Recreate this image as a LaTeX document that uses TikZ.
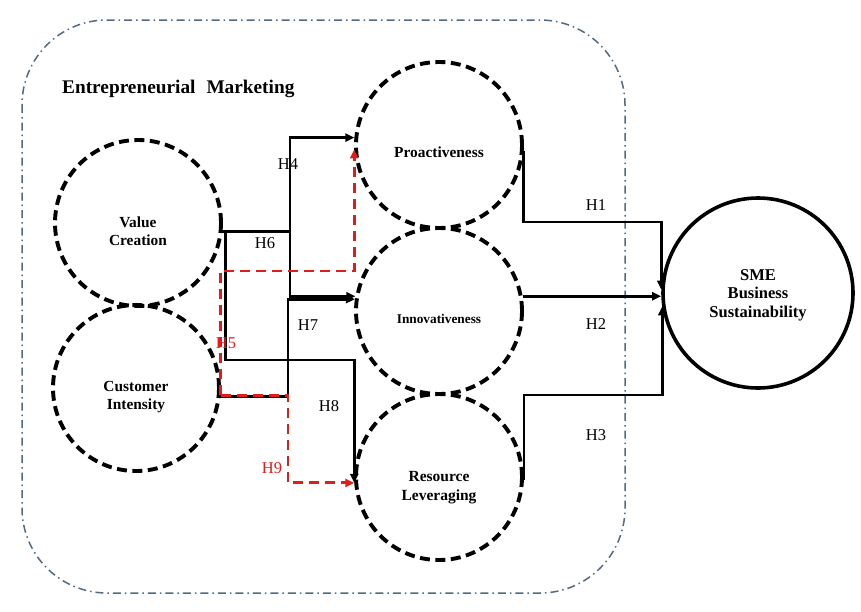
\documentclass[tikz,border=0pt]{standalone}
\usepackage{fontspec}
\setmainfont{Liberation Serif}
\usetikzlibrary{arrows.meta}
\definecolor{framec}{RGB}{84,106,126}
\definecolor{hred}{RGB}{224,28,28}
\begin{document}
\begin{tikzpicture}[x=1pt,y=-1pt,
  dcirc/.style={circle,draw,line width=3.9pt,dash pattern=on 10pt off 5.5pt,minimum size=166pt,inner sep=0pt},
  scirc/.style={circle,draw,line width=3.6pt,minimum size=190pt,inner sep=0pt},
  conn/.style={line width=2.8pt,-{Triangle[length=9pt,width=8pt]}},
  rconn/.style={line width=2.9pt,draw=hred,dash pattern=on 10pt off 6pt,-{Triangle[length=9pt,width=8pt,fill=hred]}},
  ntext/.style={font=\bfseries\fontsize{15.4}{18.5}\selectfont,align=center,inner sep=0pt},
  hlab/.style={font=\fontsize{16.5}{19}\selectfont,inner sep=0pt},
  frame/.style={draw=framec,line width=1.5pt,rounded corners=85pt,dash pattern=on 8pt off 4pt on 1.5pt off 4pt}]
\useasboundingbox (0,0) rectangle (861,611);
\fill[white] (0,0) rectangle (861,611);
% outer frame
\draw[frame] (22,20) rectangle (625,593);
\node[font=\bfseries\fontsize{19.3}{21}\selectfont,anchor=west,inner sep=0pt] (em) at (62,89) {Entrepreneurial\hspace{11pt}Marketing};
% circles
\node[dcirc] (VC) at (138,223) {};
\node[dcirc] (CI) at (136,388) {};
\node[dcirc] (PRO) at (439,145) {};
\node[dcirc] (INNO) at (439,311) {};
\node[dcirc] (RL) at (439,477) {};
\node[scirc] (SME) at (758,293) {};
% texts
\node[ntext] (tVC) at (138,231) {Value\\Creation};
\node[ntext] (tCI) at (136,397) {Customer\\Intensity};
\node[ntext] (tPRO) at (439,152) {Proactiveness};
\node[ntext,font=\bfseries\fontsize{13.3}{15}\selectfont] (tINNO) at (439,319) {Innovativeness};
\node[ntext,font=\bfseries\fontsize{15.5}{19}\selectfont] (tRL) at (439,488) {Resource\\Leveraging};
\node[ntext,font=\bfseries\fontsize{16.5}{18.5}\selectfont] (tSME) at (758,295) {SME\\Business\\Sustainability};
% helper coordinates
\coordinate (x290) at (290,0);
\coordinate (x288) at (288,0);
\coordinate (y271) at (0,271);
\coordinate (y360) at (0,360);
\coordinate (y222) at (0,222);
\coordinate (y395) at (0,395);
% black connectors left
\draw[conn] (VC.-6) -| (x290 |- PRO.175) -- (PRO.175);
\draw[conn] (VC.-6) -| (x290 |- INNO.170) -- (INNO.170);
\draw[conn] (CI.-6) -| (x288 |- INNO.172) -- (INNO.172);
\draw[conn] (VC.-6) -- ++(3,0) |- (y360 -| RL.184) -- (RL.184);
% red dashed connectors
\draw[rconn] (CI.-5) |- (y271 -| PRO.183) -- (PRO.183);
\draw[rconn] (CI.-5) -| (x288 |- RL.184) -- (RL.184);
% right connectors
\draw[conn] (PRO.-4) |- (y222 -| SME.178) -- (SME.178);
\draw[conn] (INNO.10) -- (INNO.10 -| SME.west);
\draw[conn] (RL.-2) |- (y395 -| SME.188) -- (SME.188);
% labels
\node[hlab] (h1) at (596,205) {H1};
\node[hlab] (h2) at (596,324) {H2};
\node[hlab] (h3) at (596,435) {H3};
\node[hlab] (h4) at (288,164) {H4};
\node[hlab] (h6) at (265,243) {H6};
\node[hlab] (h7) at (308,325) {H7};
\node[hlab] (h8) at (329,406) {H8};
\node[hlab,text=hred] (h5) at (226,343) {H5};
\node[hlab,text=hred] (h9) at (272,468) {H9};
\end{tikzpicture}
\end{document}
